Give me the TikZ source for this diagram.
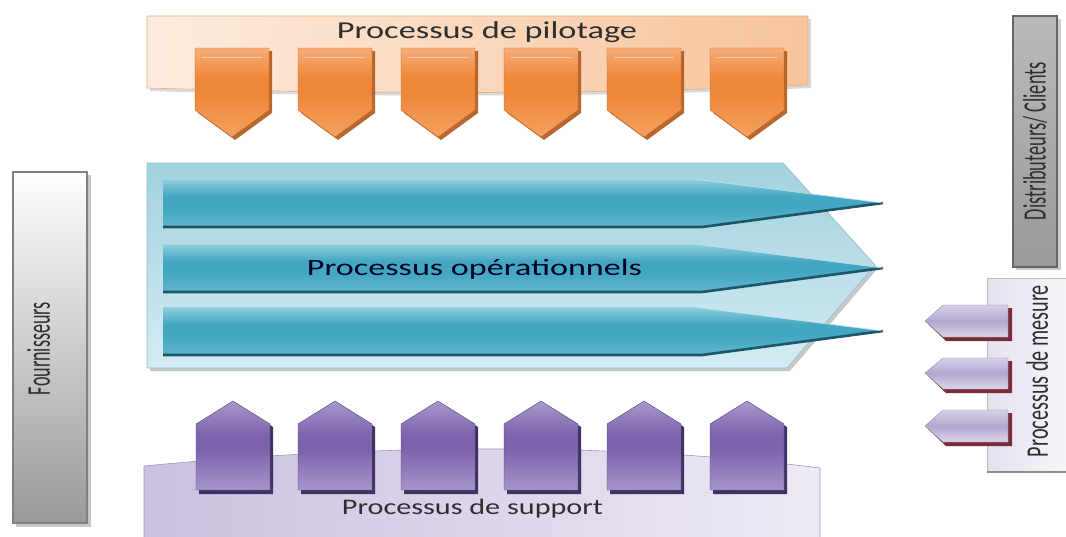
\documentclass[tikz,border=0pt]{standalone}
\usepackage{fontspec}
\setmainfont{Carlito}

\definecolor{pilA}{HTML}{FDEBDD}
\definecolor{pilB}{HTML}{F7C49C}
\definecolor{pilEdge}{HTML}{E8AE84}
\definecolor{orTop}{HTML}{F6AE78}
\definecolor{orMid}{HTML}{EF873A}
\definecolor{orBot}{HTML}{F4A262}
\definecolor{orShadow}{HTML}{B0581A}
\definecolor{blkTop}{HTML}{A2D1DF}
\definecolor{blkBot}{HTML}{D4ECF3}
\definecolor{blkEdge}{HTML}{8EC1D1}
\definecolor{tlTop}{HTML}{8FCEDE}
\definecolor{tlMid}{HTML}{44A7C2}
\definecolor{tlBot}{HTML}{5EB5CC}
\definecolor{tlDark}{HTML}{1D5668}
\definecolor{supA}{HTML}{CBC0E0}
\definecolor{supB}{HTML}{EEEAF5}
\definecolor{supEdge}{HTML}{A093C2}
\definecolor{puTop}{HTML}{A898CB}
\definecolor{puMid}{HTML}{7C63AC}
\definecolor{puBot}{HTML}{A595CA}
\definecolor{puShadow}{HTML}{3F3262}
\definecolor{meA}{HTML}{E6E1F0}
\definecolor{meB}{HTML}{F6F4F9}
\definecolor{smTop}{HTML}{D8D0E8}
\definecolor{smMid}{HTML}{B3A6CF}
\definecolor{smBot}{HTML}{DCD5EA}
\definecolor{smShadow}{HTML}{7A2C3A}
\definecolor{txt}{HTML}{2E2E2E}

% three-stop vertical shadings (path box maps onto 25bp..75bp)
\pgfdeclareverticalshading{orshade}{100bp}{color(0bp)=(orBot); color(25bp)=(orBot); color(48bp)=(orMid); color(58bp)=(orMid); color(75bp)=(orTop); color(100bp)=(orTop)}
\pgfdeclareverticalshading{pushade}{100bp}{color(0bp)=(puBot); color(25bp)=(puBot); color(48bp)=(puMid); color(56bp)=(puMid); color(75bp)=(puTop); color(100bp)=(puTop)}
\pgfdeclareverticalshading{tlshade}{100bp}{color(0bp)=(tlBot); color(25bp)=(tlBot); color(45bp)=(tlMid); color(57bp)=(tlMid); color(75bp)=(tlTop); color(100bp)=(tlTop)}
\pgfdeclareverticalshading{smshade}{100bp}{color(0bp)=(smBot); color(25bp)=(smBot); color(50bp)=(smMid); color(75bp)=(smTop); color(100bp)=(smTop)}

\tikzset{
  orangetab/.style={shading=orshade, draw=orMid!80!black, line width=0.4pt},
  orangeshadow/.style={fill=orShadow, opacity=0.9},
  purpletab/.style={shading=pushade, draw=puMid!70!black, line width=0.4pt},
  purpleshadow/.style={fill=puShadow},
  tealarrow/.style={shading=tlshade},
  tealedge/.style={draw=tlDark, line width=2.6pt, line join=round},
  smallarrow/.style={shading=smshade, draw=smMid!80!black, line width=0.3pt},
  smallshadow/.style={fill=smShadow},
  greybox/.style={draw=black!50, line width=1.6pt},
  label/.style={inner sep=0pt, text=txt}
}

\begin{document}
\begin{tikzpicture}[x=1pt, y=-1pt]
\useasboundingbox (0,0) rectangle (1066,536);
\fill[white] (0,0) rectangle (1066,536);

% --- piloting banner and its downward tabs
\fill[black!15] (150,19) -- (811,19) -- (811,88) .. controls (600,98) and (350,97) .. (150,91) -- cycle;
\shadedraw[left color=pilA, right color=pilB, draw=pilEdge, line width=0.6pt]
  (147,16) -- (808,16) -- (808,85) .. controls (600,95) and (350,94) .. (147,88) -- cycle;
\foreach \cx in {232,335,438,541,644,747}{
  \fill[orangeshadow] (\cx-34,51) -- (\cx+40,51) -- (\cx+40,113) -- (\cx+3,140) -- (\cx-34,113) -- cycle;
  \shadedraw[orangetab] (\cx-37,48) -- (\cx+37,48) -- (\cx+37,110) -- (\cx,137) -- (\cx-37,110) -- cycle;
  \draw[white, opacity=0.4, line width=1pt] (\cx-30,57) -- (\cx+30,57);
}

% --- operational block and its three arrows
\fill[black!22] (150,166) -- (786,166) -- (878,268) -- (790,371) -- (150,371) -- cycle;
\shadedraw[top color=blkTop, bottom color=blkBot, draw=blkEdge, line width=0.6pt]
  (147,163) -- (783,163) -- (875,265) -- (787,368) -- (147,368) -- cycle;
\foreach \yt/\ym/\yb in {179/203/227, 244/268/292, 307/331/355}{
  \shade[tealarrow] (163,\yt) -- (693,\yt) -- (883,\ym) -- (702,\yb) -- (163,\yb) -- cycle;
  \draw[tealedge] (163,\yb) -- (702,\yb) -- (883,\ym);
  \draw[tlTop!60!white, line width=0.6pt] (163,\yt) -- (693,\yt) -- (883,\ym);
}

% --- support banner and its upward tabs
\shadedraw[left color=supA, right color=supB, draw=supEdge, line width=0.6pt]
  (144,540) -- (144,466) .. controls (350,446) and (600,440) .. (820,468) -- (820,540);
\foreach \cx in {233,335,438,541,644,747}{
  \fill[purpleshadow] (\cx-34,494) -- (\cx-34,427) -- (\cx+3,404) -- (\cx+40,427) -- (\cx+40,494) -- cycle;
  \shadedraw[purpletab] (\cx-37,490) -- (\cx-37,424) -- (\cx,401) -- (\cx+37,424) -- (\cx+37,490) -- cycle;
}

% --- suppliers
\fill[black!22] (16,175) rectangle (91,527);
\shadedraw[top color=white, bottom color=black!40, greybox] (13,172) rectangle (87,523);

% --- distributors / customers
\fill[black!20] (1016,19) rectangle (1061,270);
\shadedraw[top color=black!27, bottom color=black!40, draw=black!60, line width=1.6pt] (1013,16) rectangle (1057,267);

% --- measurement panel with its small arrows
\shade[left color=meA, right color=meB] (987,278) rectangle (1066,472);
\draw[black!25, line width=0.6pt] (1066,278) -- (987,278) -- (987,472);
\draw[black!45, line width=2pt] (987,472) -- (1066,472);
\foreach \yt/\ym/\yb in {305/321/337, 358/373/389, 410/426/442}{
  \fill[smallshadow] (946,\yt+3) -- (1012,\yt+3) -- (1012,\yb+4) -- (946,\yb+4) -- (928,\ym+3) -- cycle;
  \shadedraw[smallarrow] (943,\yt) -- (1008,\yt) -- (1008,\yb) -- (943,\yb) -- (925,\ym) -- cycle;
}

% --- labels
\node[label] (pilotage) at (487,32) {\resizebox*{300pt}{21pt}{Processus de pilotage}};
\node[label, text=black!85!blue] (operationnels) at (474.5,269.5) {\resizebox*{335pt}{20pt}{Processus opérationnels}};
\node[label] (support) at (472.5,508.5) {\resizebox*{261pt}{19pt}{Processus de support}};
\node[label, rotate=90] (fournisseurs) at (38.5,348.5) {\resizebox*{93pt}{23pt}{Fournisseurs}};
\node[label, rotate=90] (clients) at (1035,141) {\resizebox*{158pt}{24pt}{Distributeurs/ Clients}};
\node[label, rotate=90] (mesure) at (1037,371) {\resizebox*{172pt}{22pt}{Processus de mesure}};
\end{tikzpicture}
\end{document}
